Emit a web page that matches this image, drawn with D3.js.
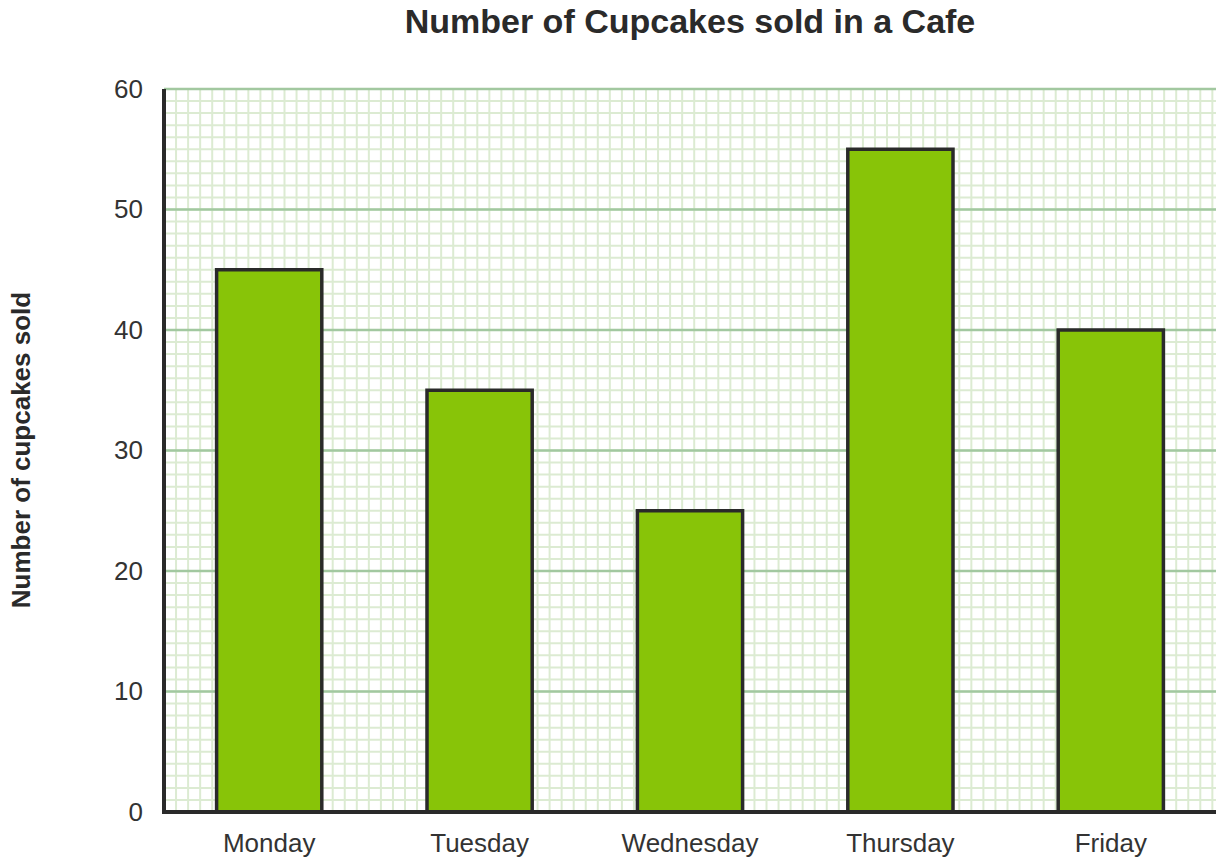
<!DOCTYPE html>
<html>
<head>
<meta charset="utf-8">
<script src="https://cdn.jsdelivr.net/npm/d3@7"></script>
<style>
  html, body { margin: 0; padding: 0; background: #fff; }
  text { font-family: "Liberation Sans", Arial, sans-serif; }
</style>
</head>
<body>
<div id="chart"></div>
<script>
const days = ['Monday', 'Tuesday', 'Wednesday', 'Thursday', 'Friday'];
const cupcakes = [45, 35, 25, 55, 40];
const yTicks = [0, 10, 20, 30, 40, 50, 60];

const W = 1224, H = 866;
const margin = { top: 89, right: 8, bottom: 54, left: 164 };
const width = W - margin.left - margin.right,
  height = H - margin.top - margin.bottom;

const svg = d3.select('#chart')
  .append('svg')
  .attr('width', W)
  .attr('height', H);

const g = svg.append('g')
  .attr('transform', `translate(${margin.left},${margin.top})`);

const x = d3.scaleBand()
  .domain(days)
  .range([0, width])
  .paddingInner(0.5)
  .paddingOuter(0.25);

const y = d3.scaleLinear()
  .domain([0, 60])
  .range([height, 0]);

// minor grid (one unit per cell, same size both ways)
const cell = y(0) - y(1);
const minorY = d3.range(0, 61);
const minorX = d3.range(0, Math.floor(width / cell) + 1);

g.append('g')
  .selectAll('line')
  .data(minorX)
  .join('line')
  .attr('x1', (d) => d * cell)
  .attr('x2', (d) => d * cell)
  .attr('y1', 0)
  .attr('y2', height)
  .attr('stroke', '#dcebd2')
  .attr('stroke-width', 2);

g.append('g')
  .selectAll('line')
  .data(minorY)
  .join('line')
  .attr('x1', 0)
  .attr('x2', width)
  .attr('y1', (d) => y(d))
  .attr('y2', (d) => y(d))
  .attr('stroke', '#dcebd2')
  .attr('stroke-width', 2);

// major grid
g.append('g')
  .selectAll('line')
  .data(yTicks.slice(1))
  .join('line')
  .attr('x1', 0)
  .attr('x2', width)
  .attr('y1', (d) => y(d))
  .attr('y2', (d) => y(d))
  .attr('stroke', '#a2c8a0')
  .attr('stroke-width', 2.5);

// bars
g.append('g')
  .selectAll('rect')
  .data(cupcakes)
  .join('rect')
  .attr('x', (d, i) => x(days[i]))
  .attr('y', (d) => y(d))
  .attr('width', x.bandwidth())
  .attr('height', (d) => height - y(d))
  .attr('fill', '#88c408')
  .attr('stroke', '#2a2a2a')
  .attr('stroke-width', 3.5);

// Y axis
g.append('g')
  .call(d3.axisLeft(y).tickValues(yTicks).tickSize(0).tickPadding(21))
  .call((a) => a.select('.domain').remove())
  .selectAll('text')
  .attr('fill', '#333')
  .style('font-size', '26px');

// X axis
g.append('g')
  .attr('transform', `translate(0,${height})`)
  .call(d3.axisBottom(x).tickSize(0).tickPadding(22))
  .call((a) => a.select('.domain').remove())
  .selectAll('text')
  .attr('fill', '#333')
  .style('font-size', '26px');

// axis lines
g.append('line')
  .attr('x1', 0).attr('x2', 0)
  .attr('y1', 0).attr('y2', height + 2)
  .attr('stroke', '#2a2a2a')
  .attr('stroke-width', 4);
g.append('line')
  .attr('x1', -2).attr('x2', width)
  .attr('y1', height).attr('y2', height)
  .attr('stroke', '#2a2a2a')
  .attr('stroke-width', 4);

// title
svg.append('text')
  .attr('x', margin.left + width / 2)
  .attr('y', 33)
  .attr('text-anchor', 'middle')
  .attr('fill', '#2a2a2a')
  .style('font-size', '34px')
  .style('font-weight', 'bold')
  .text('Number of Cupcakes sold in a Cafe');

// y label
svg.append('text')
  .attr('transform', `translate(30,450) rotate(-90)`)
  .attr('text-anchor', 'middle')
  .attr('fill', '#2a2a2a')
  .style('font-size', '26px')
  .style('font-weight', 'bold')
  .text('Number of cupcakes sold');
</script>
</body>
</html>
